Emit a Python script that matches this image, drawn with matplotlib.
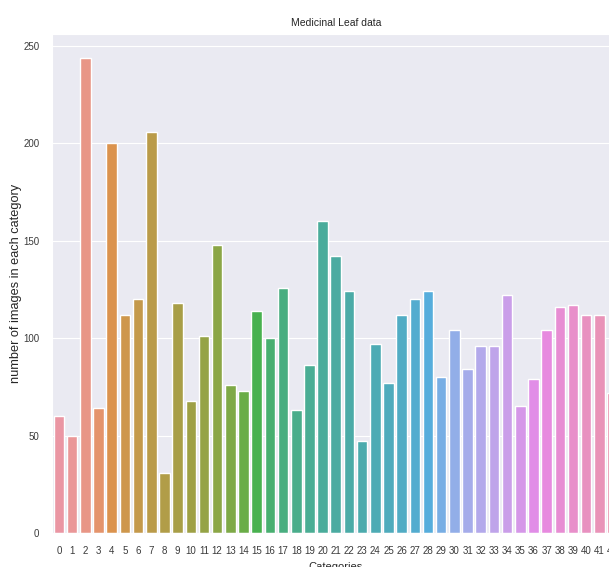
import pandas as pd
import seaborn as sns
import matplotlib
matplotlib.use('Agg')
import matplotlib.pyplot as plt

# images per category
categories = list(range(43))
counts = [60, 50, 244, 64, 200, 112, 120, 206, 31, 118,
          68, 101, 148, 76, 73, 114, 100, 126, 63, 86,
          160, 142, 124, 47, 97, 77, 112, 120, 124, 80,
          104, 84, 96, 96, 122, 65, 79, 104, 116, 117,
          112, 112, 72]

document = pd.DataFrame({'Categories': categories, 'count': counts})

sns.set_style('darkgrid')
plt.rcParams['font.family'] = ['Liberation Sans', 'DejaVu Sans']

# muted husl colours like the reference
palette = [sns.desaturate(c, 0.75) for c in sns.husl_palette(len(categories), l=0.7)]

fig = plt.figure(figsize=(6.09, 5.67), dpi=100)
# the reference is cropped on the right, so the axes run past the figure edge
ax = fig.add_axes([52.4 / 609, 34 / 567, 43 * 13.18 / 609, 499 / 567])

sns.barplot(data=document, x='Categories', y='count', hue='Categories',
            palette=palette, saturation=1, legend=False, ax=ax)

ax.set_title('Medicinal Leaf data', fontsize=7.5)
ax.set_xlabel('Categories', fontsize=8)
ax.set_ylabel('number of images in each category', fontsize=9.2)
ax.yaxis.labelpad = 1
ax.tick_params(axis='both', labelsize=7, pad=6, colors='#3a3a3a')

fig.savefig('out.png', dpi=100)
